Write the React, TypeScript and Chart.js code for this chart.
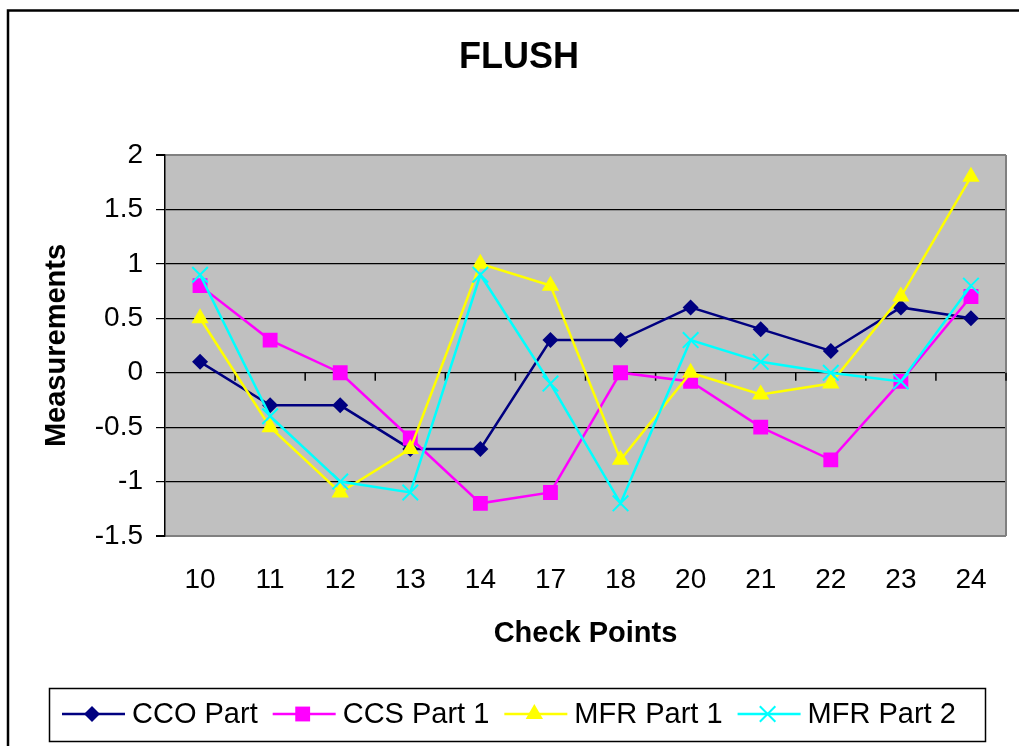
import React, { useEffect, useRef } from "react";
import { Chart, registerables } from "chart.js";

Chart.register(...registerables);

const categories = ["10", "11", "12", "13", "14", "17", "18", "20", "21", "22", "23", "24"];
const ccoPart = [0.1, -0.3, -0.3, -0.7, -0.7, 0.3, 0.3, 0.6, 0.4, 0.2, 0.6, 0.5];
const ccsPart1 = [0.8, 0.3, 0.0, -0.6, -1.2, -1.1, 0.0, -0.08, -0.5, -0.8, -0.08, 0.7];
const mfrPart1 = [0.5, -0.5, -1.1, -0.7, 1.0, 0.8, -0.8, 0.0, -0.2, -0.1, 0.7, 1.8];
const mfrPart2 = [0.9, -0.4, -1.0, -1.1, 0.9, -0.1, -1.2, 0.3, 0.1, 0.0, -0.08, 0.8];
const seriesNames = ["CCO Part", "CCS Part 1", "MFR Part 1", "MFR Part 2"];

const FONT = "'Liberation Sans', Arial, Helvetica, sans-serif";

function drawMarker(ctx: CanvasRenderingContext2D, style: string, x: number, y: number, r: number, color: string) {
  ctx.save();
  ctx.fillStyle = color;
  ctx.strokeStyle = color;
  ctx.beginPath();
  if (style === "rectRot") {
    ctx.moveTo(x - r, y);
    ctx.lineTo(x, y - r);
    ctx.lineTo(x + r, y);
    ctx.lineTo(x, y + r);
    ctx.closePath();
    ctx.fill();
  } else if (style === "rect") {
    const s = Math.SQRT1_2 * r;
    ctx.rect(x - s, y - s, 2 * s, 2 * s);
    ctx.fill();
  } else if (style === "triangle") {
    let rad = 0;
    ctx.moveTo(x + Math.sin(rad) * r, y - Math.cos(rad) * r);
    rad += (2 * Math.PI) / 3;
    ctx.lineTo(x + Math.sin(rad) * r, y - Math.cos(rad) * r);
    rad += (2 * Math.PI) / 3;
    ctx.lineTo(x + Math.sin(rad) * r, y - Math.cos(rad) * r);
    ctx.closePath();
    ctx.fill();
  } else {
    const o = Math.SQRT1_2 * r;
    ctx.lineWidth = 2;
    ctx.moveTo(x - o, y - o);
    ctx.lineTo(x + o, y + o);
    ctx.moveTo(x - o, y + o);
    ctx.lineTo(x + o, y - o);
    ctx.stroke();
  }
  ctx.restore();
}

const framePlugin = {
  id: "framePlugin",
  beforeDraw(chart: any) {
    const ctx = chart.ctx as CanvasRenderingContext2D;
    const { left, top, right, bottom } = chart.chartArea;
    ctx.save();
    ctx.fillStyle = "#ffffff";
    ctx.fillRect(0, 0, chart.width, chart.height);
    ctx.strokeStyle = "#000000";
    ctx.lineWidth = 2.5;
    ctx.strokeRect(8, 10.5, chart.width + 20, chart.height + 20);
    ctx.fillStyle = "#C0C0C0";
    ctx.fillRect(left, top, right - left, bottom - top);
    ctx.restore();
  },
  beforeDatasetsDraw(chart: any) {
    const ctx = chart.ctx as CanvasRenderingContext2D;
    const { top, right, bottom } = chart.chartArea;
    const xs = chart.scales.x;
    const ys = chart.scales.y;
    const y0 = ys.getPixelForValue(0);
    ctx.save();
    ctx.strokeStyle = "#808080";
    ctx.lineWidth = 2;
    ctx.beginPath();
    ctx.moveTo(right, top);
    ctx.lineTo(right, bottom);
    ctx.stroke();
    ctx.strokeStyle = "#000000";
    ctx.lineWidth = 1.5;
    ctx.beginPath();
    for (let i = 1; i <= categories.length; i++) {
      const px = xs.getPixelForValue(i - 0.5);
      ctx.moveTo(px, y0);
      ctx.lineTo(px, y0 + 8);
    }
    ctx.stroke();
    ctx.restore();
  },
  afterDraw(chart: any) {
    const ctx = chart.ctx as CanvasRenderingContext2D;
    ctx.save();
    ctx.strokeStyle = "#000000";
    ctx.lineWidth = 1.5;
    ctx.strokeRect(49.5, 688.5, 936, 53);
    const cy = 714;
    let x = 62;
    ctx.font = `29px ${FONT}`;
    ctx.textBaseline = "middle";
    ctx.textAlign = "left";
    chart.data.datasets.forEach((ds: any) => {
      ctx.strokeStyle = ds.borderColor;
      ctx.lineWidth = 2.5;
      ctx.beginPath();
      ctx.moveTo(x, cy);
      ctx.lineTo(x + 63, cy);
      ctx.stroke();
      drawMarker(ctx, ds.pointStyle, x + 30, cy, ds.pointRadius, ds.borderColor);
      ctx.fillStyle = "#000000";
      const tx = x + 70;
      ctx.fillText(ds.label, tx, cy + 1);
      x = tx + ctx.measureText(ds.label).width + 15;
    });
    ctx.restore();
  },
};

export default function App() {
  const ref = useRef<HTMLCanvasElement | null>(null);
  useEffect(() => {
    document.body.style.margin = "0";
    document.body.style.background = "#ffffff";
    const canvas = ref.current;
    if (!canvas) return;
    const mk = (label: string, data: number[], color: string, pointStyle: string, r: number, order: number) => ({
      label,
      data,
      borderColor: color,
      backgroundColor: color,
      pointBackgroundColor: color,
      pointBorderColor: color,
      pointBorderWidth: pointStyle === "crossRot" ? 2 : 0,
      pointStyle,
      pointRadius: r,
      pointHoverRadius: r,
      borderWidth: 2.5,
      tension: 0,
      fill: false,
      order,
    });
    const chart = new Chart(canvas, {
      type: "line",
      data: {
        labels: categories,
        datasets: [
          mk(seriesNames[0], ccoPart, "#000080", "rectRot", 8, 3),
          mk(seriesNames[1], ccsPart1, "#FF00FF", "rect", 10.5, 2),
          mk(seriesNames[2], mfrPart1, "#FFFF00", "triangle", 10, 1),
          mk(seriesNames[3], mfrPart2, "#00FFFF", "crossRot", 11, 0),
        ] as any,
      },
      options: {
        responsive: false,
        animation: false,
        events: [],
        layout: { padding: { left: 28, right: 9, top: 0, bottom: 80 } },
        plugins: {
          legend: { display: false },
          tooltip: { enabled: false },
          title: {
            display: true,
            text: "FLUSH",
            color: "#000000",
            font: { family: FONT, size: 36, weight: "bold" },
            padding: { top: 36.4, bottom: 75.4 },
          },
        },
        scales: {
          x: {
            type: "category",
            offset: true,
            grid: { display: false, drawTicks: false },
            border: { display: false },
            ticks: {
              color: "#000000",
              font: { family: FONT, size: 28 },
              padding: 27,
              maxRotation: 0,
              autoSkip: false,
            },
            title: {
              display: true,
              text: "Check Points",
              color: "#000000",
              font: { family: FONT, size: 29, weight: "bold" },
              padding: { top: 0, bottom: 14.6 },
            },
            afterFit(scale: any) {
              scale.height = 130;
            },
          },
          y: {
            min: -1.5,
            max: 2,
            ticks: {
              stepSize: 0.5,
              color: "#000000",
              font: { family: FONT, size: 28 },
              padding: 13,
              callback: (v: any) => String(Math.round(Number(v) * 100) / 100),
            },
            grid: {
              color: (c: any) => (c.tick && (c.tick.value === 2 || c.tick.value === -1.5) ? "#808080" : "#000000"),
              lineWidth: (c: any) => (c.tick && (c.tick.value === 2 || c.tick.value === -1.5) ? 2 : 1.2),
              tickColor: "#000000",
              tickLength: 9,
              drawTicks: true,
            },
            border: { display: true, color: "#000000", width: 1.5 },
            title: {
              display: true,
              text: "Measurements",
              color: "#000000",
              font: { family: FONT, size: 29, weight: "bold" },
              padding: { top: 11.6, bottom: 0 },
            },
            afterFit(scale: any) {
              scale.width = 137;
            },
          },
        },
      } as any,
      plugins: [framePlugin],
    });
    return () => chart.destroy();
  }, []);
  return <canvas ref={ref} width={1019} height={746} style={{ display: "block" }} />;
}
